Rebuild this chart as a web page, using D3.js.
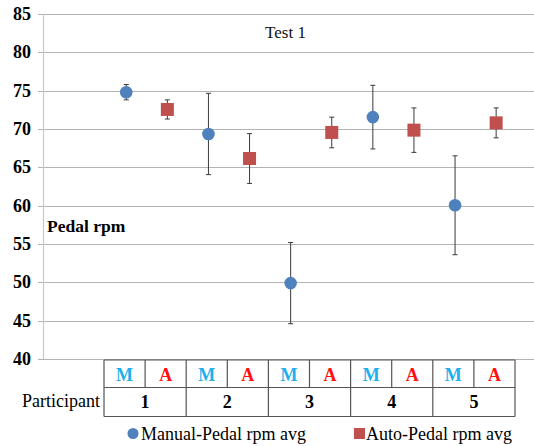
<!DOCTYPE html>
<html><head><meta charset="utf-8">
<script src="https://cdn.jsdelivr.net/npm/d3@7"></script>
<style>body{margin:0;background:#fff}svg{display:block}</style>
</head><body>
<script>
const participants = ["1","2","3","4","5"];
const modes = ["M","A"];
const manualAvg = [74.8, 69.35, 49.9, 71.55, 60.05];
const manualErr = [1.0, 5.3, 5.3, 4.15, 6.45];
const autoAvg = [72.55, 66.15, 69.55, 69.85, 70.8];
const autoErr = [1.25, 3.25, 2.0, 2.9, 1.95];
const yTicks = [40,45,50,55,60,65,70,75,80,85];
const seriesNames = ["Manual-Pedal rpm avg","Auto-Pedal rpm avg"];
const title = "Test 1";
const yTitle = "Pedal rpm";
const tableLabel = "Participant";

const W=534,H=446;
const blue="#4F81BD", red="#C0504D";
const FONT="Liberation Serif, Tinos, DejaVu Serif, serif";
const svg=d3.select("body").append("svg").attr("width",W).attr("height",H)
  .attr("font-family",FONT);

const y=d3.scaleLinear().domain([40,85]).range([359,14]);
const cats=[];
participants.forEach(p=>modes.forEach(m=>cats.push(p+m)));
const xPt=d3.scaleBand().domain(cats).range([105.7,516.7]).padding(0);
const xTab=d3.scaleBand().domain(cats).range([104,515]).padding(0);
const xGrp=d3.scaleBand().domain(participants).range([104,515]).padding(0);

// gridlines
svg.append("g").selectAll("line").data(yTicks).join("line")
  .attr("x1",38).attr("x2",534).attr("y1",d=>Math.round(y(d))+0.5).attr("y2",d=>Math.round(y(d))+0.5)
  .attr("stroke","#b3b3b3").attr("stroke-width",1.2);
// y axis line
svg.append("line").attr("x1",43.5).attr("x2",43.5).attr("y1",y(85)).attr("y2",y(40))
  .attr("stroke","#c8c8c8").attr("stroke-width",1.2);
// tick labels
svg.append("g").selectAll("text").data(yTicks).join("text")
  .attr("x",31).attr("y",d=>y(d)+6).attr("text-anchor","end")
  .attr("font-weight","bold").attr("font-size",18).attr("fill","#000")
  .text(d=>d);

svg.append("text").attr("x",285.5).attr("y",38).attr("text-anchor","middle")
  .attr("font-size",17).attr("fill","#111").text(title);
svg.append("text").attr("x",47).attr("y",232).attr("font-weight","bold")
  .attr("font-size",17.5).attr("fill","#000").text(yTitle);

// table
const tg=svg.append("g").attr("stroke","#555").attr("stroke-width",1.2);
tg.append("line").attr("x1",104).attr("x2",515).attr("y1",360).attr("y2",360);
tg.append("line").attr("x1",104).attr("x2",515).attr("y1",387.5).attr("y2",387.5);
tg.append("line").attr("x1",104).attr("x2",515).attr("y1",416.5).attr("y2",416.5);
const bounds=participants.map(p=>xGrp(p)).concat([515]);
tg.selectAll(".vb").data(bounds).join("line").attr("class","vb").attr("x1",d=>d).attr("x2",d=>d).attr("y1",360).attr("y2",416.5);
tg.selectAll(".vm").data(participants).join("line").attr("class","vm")
  .attr("x1",p=>xTab(p+"A")).attr("x2",p=>xTab(p+"A")).attr("y1",360).attr("y2",387.5);
svg.append("g").selectAll("text").data(cats).join("text")
  .attr("x",d=>xTab(d)+xTab.bandwidth()/2).attr("y",381).attr("text-anchor","middle")
  .attr("font-weight","bold").attr("font-size",18)
  .attr("fill",d=>d.endsWith("M")?"#1DB0EC":"#FF1010").text(d=>d.slice(-1));
svg.append("g").selectAll("text").data(participants).join("text")
  .attr("x",d=>xGrp(d)+xGrp.bandwidth()/2).attr("y",408).attr("text-anchor","middle")
  .attr("font-weight","bold").attr("font-size",18).attr("fill","#000").text(d=>d);
svg.append("text").attr("x",100).attr("y",407).attr("text-anchor","end")
  .attr("font-size",18).attr("fill","#000").text(tableLabel);

// error bars + markers
function series(avg,err,key){
  const data=participants.map((p,i)=>({c:p+key,v:avg[i],e:err[i]}));
  const g=svg.append("g");
  const cx=d=>xPt(d.c)+xPt.bandwidth()/2;
  g.selectAll(".eb").data(data).join("line").attr("class","eb").attr("x1",cx).attr("x2",cx)
    .attr("y1",d=>y(d.v+d.e)).attr("y2",d=>y(d.v-d.e)).attr("stroke","#3a3a3a").attr("stroke-width",1);
  [1,-1].forEach((s,k)=>{
    g.selectAll(".cap"+k).data(data).join("line").attr("class","cap"+k)
      .attr("x1",d=>cx(d)-2.5).attr("x2",d=>cx(d)+2.5)
      .attr("y1",d=>y(d.v+s*d.e)).attr("y2",d=>y(d.v+s*d.e))
      .attr("stroke","#3a3a3a").attr("stroke-width",1);
  });
  return {g,data,cx};
}
const m=series(manualAvg,manualErr,"M");
m.g.selectAll("circle").data(m.data).join("circle").attr("cx",m.cx).attr("cy",d=>y(d.v))
  .attr("r",6.3).attr("fill",blue);
const a=series(autoAvg,autoErr,"A");
a.g.selectAll("rect").data(a.data).join("rect").attr("x",d=>a.cx(d)-6.5).attr("y",d=>y(d.v)-6.5)
  .attr("width",13).attr("height",13).attr("fill",red);

// legend
svg.append("circle").attr("cx",133).attr("cy",433.5).attr("r",5.5).attr("fill",blue);
svg.append("text").attr("x",141).attr("y",439.5).attr("font-size",18).attr("fill","#000").text(seriesNames[0]);
svg.append("rect").attr("x",354).attr("y",428).attr("width",11).attr("height",11).attr("fill",red);
svg.append("text").attr("x",366).attr("y",439.5).attr("font-size",18).attr("fill","#000").text(seriesNames[1]);
</script>
</body></html>
